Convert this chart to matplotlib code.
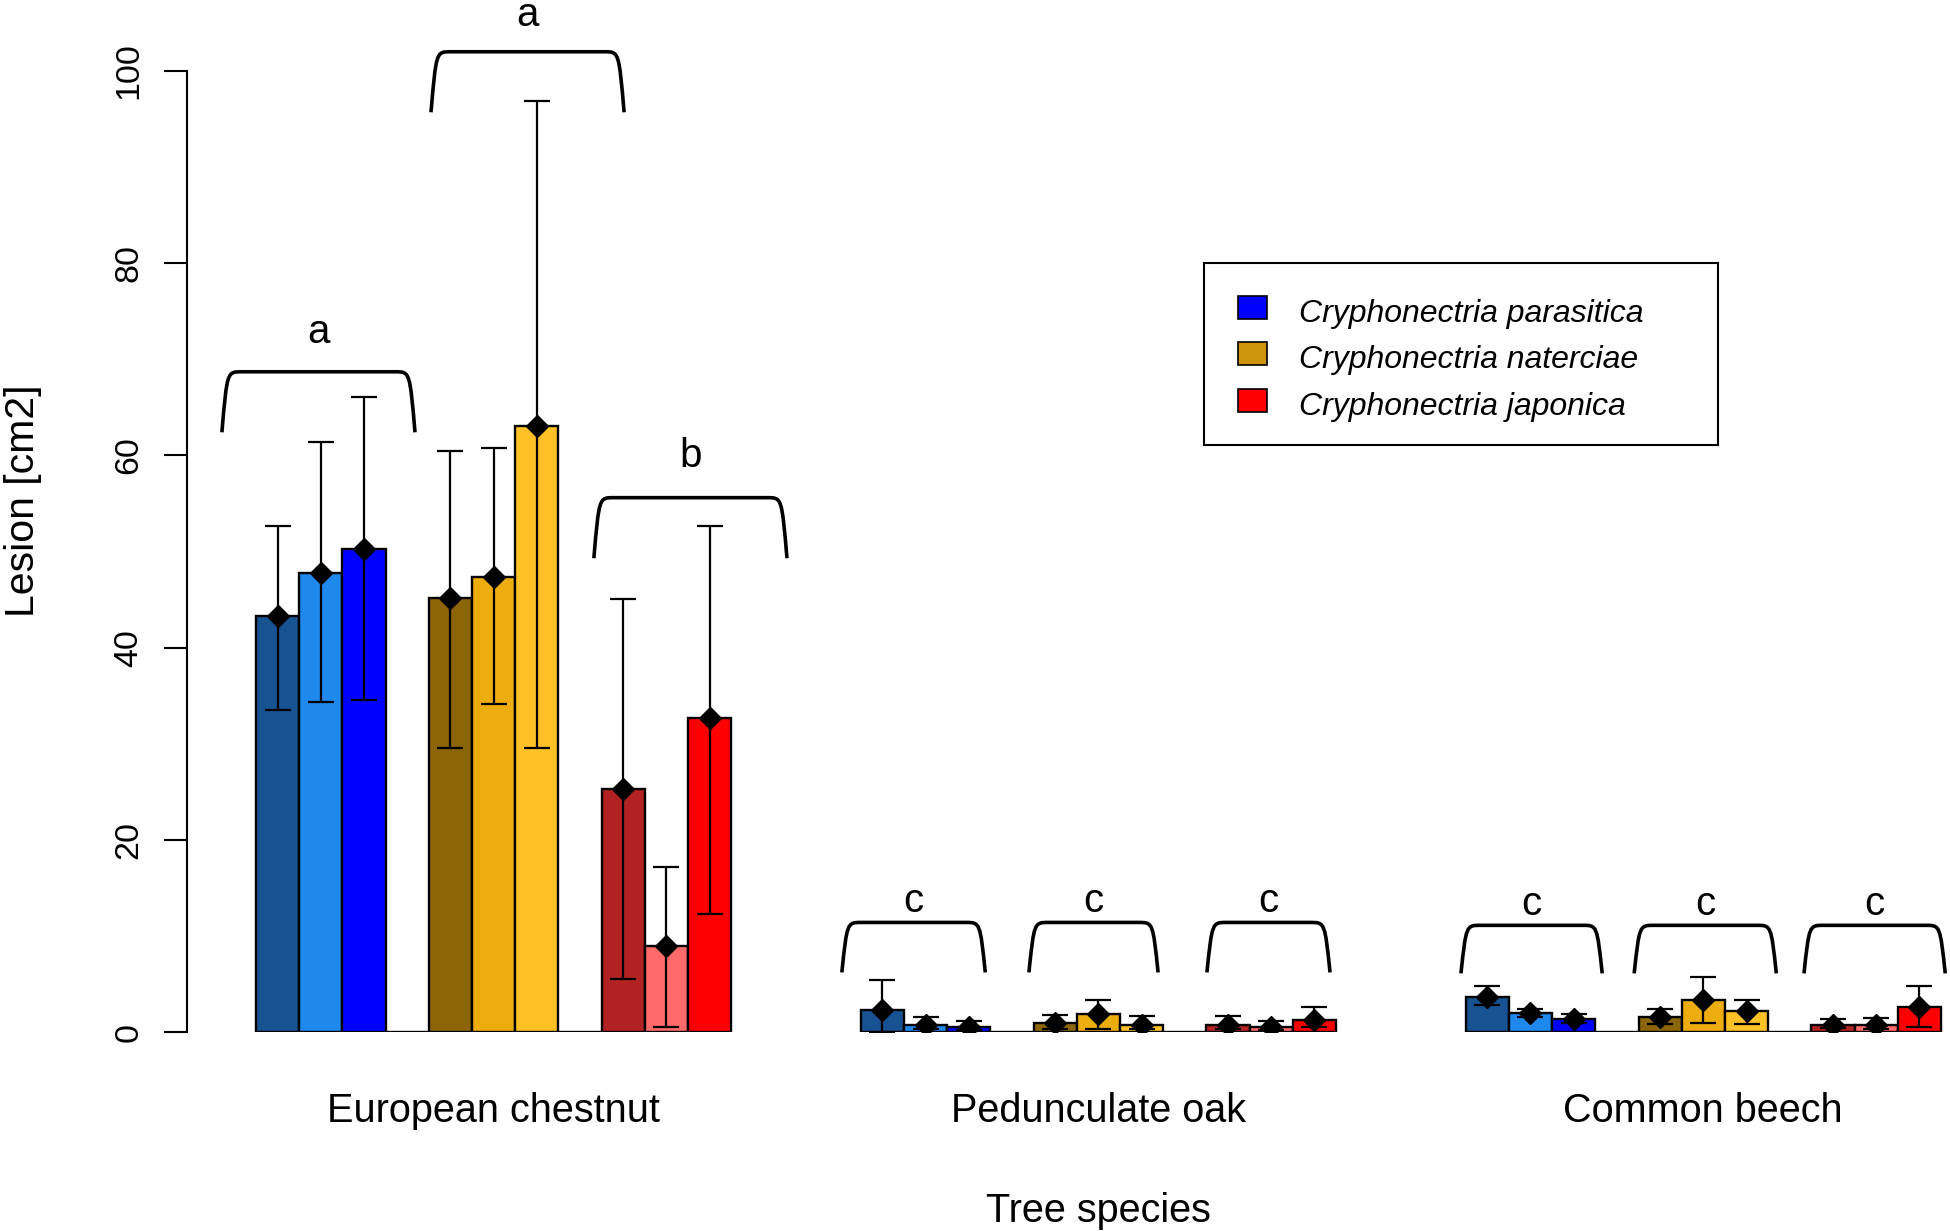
import matplotlib
matplotlib.use("Agg")
import matplotlib.pyplot as plt
from matplotlib.path import Path
from matplotlib.patches import PathPatch, Rectangle

plt.rcParams['font.family'] = ['Liberation Sans', 'DejaVu Sans']

# ---- data ----
tree_species = ["European chestnut", "Pedunculate oak", "Common beech"]
fungi = ["Cryphonectria parasitica", "Cryphonectria naterciae", "Cryphonectria japonica"]

# 9 bars per tree species: 3 isolates x 3 fungi (parasitica, naterciae, japonica)
chestnut_mean = [43.3, 47.8, 50.3, 45.2, 47.3, 63.1, 25.3, 8.9, 32.7]
chestnut_low = [33.5, 34.3, 34.5, 29.5, 34.1, 29.5, 5.5, 0.5, 12.3]
chestnut_high = [52.7, 61.4, 66.1, 60.5, 60.8, 96.9, 45.1, 17.2, 52.7]

oak_mean = [2.3, 0.7, 0.5, 0.95, 1.9, 0.75, 0.75, 0.5, 1.3]
oak_low = [0.0, 0.35, 0.2, 0.3, 0.3, 0.3, 0.3, 0.2, 0.5]
oak_high = [5.4, 1.6, 1.1, 1.8, 3.3, 1.7, 1.7, 1.1, 2.6]

beech_mean = [3.6, 1.95, 1.4, 1.6, 3.3, 2.15, 0.75, 0.75, 2.65]
beech_low = [2.85, 1.55, 0.95, 0.8, 0.95, 0.8, 0.4, 0.35, 0.55]
beech_high = [4.75, 2.4, 1.9, 2.4, 5.7, 3.3, 1.4, 1.45, 4.75]

letters = [["a", "a", "b"], ["c", "c", "c"], ["c", "c", "c"]]

# ---- styling / layout ----
bar_colors = ["#175393", "#1E88EC", "#0000FF",
              "#8B6508", "#EEAD0E", "#FFC125",
              "#B22222", "#FF6A6A", "#FF0000"]
legend_colors = ["#0000FF", "#CD950C", "#FF0000"]

# bracket spans in bar-width units (first bar's left edge = 0), top, leg drop, letter y
bracket_x = [[(-0.79, 3.68), (4.05, 8.52), (7.82, 12.29)],
             [(13.56, 16.88), (17.89, 20.88), (22.01, 24.86)],
             [(27.89, 31.16), (31.90, 35.19), (35.83, 39.10)]]
bracket_top = [[68.7, 102.0, 55.6], [11.4, 11.4, 11.4], [11.1, 11.1, 11.1]]
bracket_drop = [6.3, 5.2, 5.0]
letter_y = [[72.8, 105.8, 59.9], [13.6, 13.6, 13.6], [13.3, 13.3, 13.3]]

means = [chestnut_mean, oak_mean, beech_mean]
lows = [chestnut_low, oak_low, beech_low]
highs = [chestnut_high, oak_high, beech_high]

W, H = 1950, 1231
fig = plt.figure(figsize=(W / 100, H / 100), dpi=100)
ax = fig.add_axes([186.5 / W, (H - 1032) / H, (W - 186.5) / W, (1032 - 3.7) / H])
ax.set_xlim(-1.609, 39.21)
ax.set_ylim(0, 107)

group_centers = []
for t in range(3):
    start = t * 14
    xs = []
    for g in range(3):
        for i in range(3):
            xs.append(start + g * 4 + i + 0.5)
    ax.bar(xs, means[t], width=1.0, color=bar_colors, edgecolor="black",
           linewidth=1.7, zorder=2)
    err_lo = [m - lo for m, lo in zip(means[t], lows[t])]
    err_hi = [hi - m for m, hi in zip(means[t], highs[t])]
    ax.errorbar(xs, means[t], yerr=[err_lo, err_hi], fmt="D", color="black",
                markersize=11.5, elinewidth=1.6, capsize=9.5, capthick=1.6, zorder=3)
    ax.hlines(0, start, start + 11, color="black", linewidth=1.7, zorder=1)
    group_centers.append(start + 5.5)

    for g in range(3):
        x0, x1 = bracket_x[t][g]
        yt = bracket_top[t][g]
        yb = yt - bracket_drop[t]
        verts = [(x0, yb), (x0 + 0.12, yt), (x0 + 0.12, yt), (x0 + 0.45, yt),
                 (x1 - 0.45, yt),
                 (x1 - 0.12, yt), (x1 - 0.12, yt), (x1, yb)]
        codes = [Path.MOVETO, Path.CURVE4, Path.CURVE4, Path.CURVE4,
                 Path.LINETO,
                 Path.CURVE4, Path.CURVE4, Path.CURVE4]
        ax.add_patch(PathPatch(Path(verts, codes), facecolor="none",
                               edgecolor="black", linewidth=2.6, clip_on=False))
        ax.text((x0 + x1) / 2, letter_y[t][g], letters[t][g], ha="center",
                va="center", fontsize=29, clip_on=False)

# axes styling like base R
for side in ["top", "right", "bottom"]:
    ax.spines[side].set_visible(False)
ax.spines["left"].set_bounds(0, 100)
ax.spines["left"].set_linewidth(1.5)
ax.set_yticks([0, 20, 40, 60, 80, 100])
ax.set_yticklabels(["0", "20", "40", "60", "80", "100"], rotation=90, va="center")
ax.tick_params(axis="y", direction="out", length=16.5, width=1.5, labelsize=24.5, pad=14)
ax.set_xticks(group_centers)
ax.set_xticklabels(tree_species, fontsize=28.5)
ax.tick_params(axis="x", length=0, pad=43)
ax.set_xlabel("Tree species", fontsize=28.5, labelpad=45)
ax.xaxis.label.set_x((1098 - 186.5) / (W - 186.5))
ax.set_ylabel("Lesion [cm2]", fontsize=29.5)
ax.yaxis.set_label_coords((23 - 186.5) / (W - 186.5), (1032 - 501) / (1032 - 3.7))
ax.yaxis.label.set_verticalalignment("center")

# legend box
lax = fig.add_axes([1204 / W, 1 - 445 / H, 514 / W, 182 / H])
lax.set_xlim(0, 514)
lax.set_ylim(182, 0)
lax.set_xticks([])
lax.set_yticks([])
for s in lax.spines.values():
    s.set_linewidth(1.5)
for k, (name, col) in enumerate(zip(fungi, legend_colors)):
    yc = [44, 90, 137][k]
    lax.add_patch(Rectangle((34, yc - 11.5), 29, 23, facecolor=col,
                            edgecolor="black", linewidth=1.2))
    lax.text(95, yc + 7, name, fontsize=23, style="italic", va="center", ha="left")

fig.savefig("out.png", dpi=100)
